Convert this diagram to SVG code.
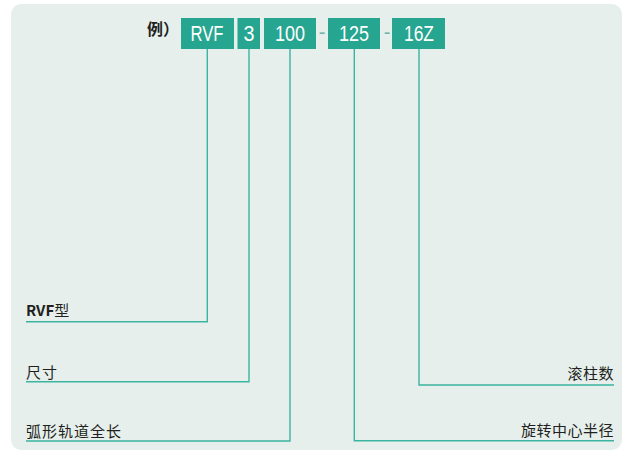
<svg xmlns="http://www.w3.org/2000/svg" width="625" height="453" viewBox="0 0 625 453">
<style>
.box{fill:#26a690}
.bt{font-family:"Liberation Sans",Arial,sans-serif;font-size:21.5px;fill:#ffffff;text-anchor:middle}
.dash{font-family:"Liberation Sans",Arial,sans-serif;font-size:20px;fill:#6fb5a7;text-anchor:middle}
.lbl{font-family:"Noto Sans CJK SC","Noto Sans",sans-serif;font-size:15px;fill:#231f20;font-weight:normal}
.ln{fill:none;stroke:#3cb5a0;stroke-width:1.4}
</style>
<rect x="0" y="0" width="625" height="453" fill="#ffffff"/>
<rect x="11" y="4" width="611" height="446" rx="10" fill="#e6efec"/>
<text x="147" y="35" class="lbl" style="font-size:16px;font-weight:bold">例）</text>
<g id="node-rvf"><rect class="box" x="181" y="18" width="53" height="31"/><text class="bt" x="207" y="41.3" textLength="33" lengthAdjust="spacingAndGlyphs">RVF</text></g>
<g id="node-3"><rect class="box" x="237.5" y="18" width="22.5" height="31"/><text class="bt" x="249" y="41.3" textLength="11" lengthAdjust="spacingAndGlyphs">3</text></g>
<g id="node-100"><rect class="box" x="264" y="18" width="52" height="31"/><text class="bt" x="290" y="41.3" textLength="30" lengthAdjust="spacingAndGlyphs">100</text></g>
<text class="dash" x="322" y="39">-</text>
<g id="node-125"><rect class="box" x="328" y="18" width="52" height="31"/><text class="bt" x="354" y="41.3" textLength="30" lengthAdjust="spacingAndGlyphs">125</text></g>
<text class="dash" x="387" y="39">-</text>
<g id="node-16z"><rect class="box" x="392" y="18" width="53" height="31"/><text class="bt" x="419" y="41.3" textLength="30" lengthAdjust="spacingAndGlyphs">16Z</text></g>
<g id="connectors">
<polyline class="ln" points="207.3,49 207.3,321.8 26,321.8"/>
<polyline class="ln" points="249,49 249,381.8 26,381.8"/>
<polyline class="ln" points="290,49 290,441 26,441"/>
<polyline class="ln" points="354.3,49 354.3,440.8 614,440.8"/>
<polyline class="ln" points="419,49 419,385 614,385"/>
</g>
<g id="label-rvf"><text class="lbl" x="26" y="316"><tspan style="font-weight:bold">RVF</tspan>型</text></g>
<g id="label-size"><text class="lbl" x="26" y="377.5" letter-spacing="1">尺寸</text></g>
<g id="label-length"><text class="lbl" x="26" y="436.5" letter-spacing="1">弧形轨道全长</text></g>
<g id="label-rollers"><text class="lbl" x="614" y="379" text-anchor="end" letter-spacing="0.5">滚柱数</text></g>
<g id="label-radius"><text class="lbl" x="614" y="436" text-anchor="end" letter-spacing="0.5">旋转中心半径</text></g>
</svg>
